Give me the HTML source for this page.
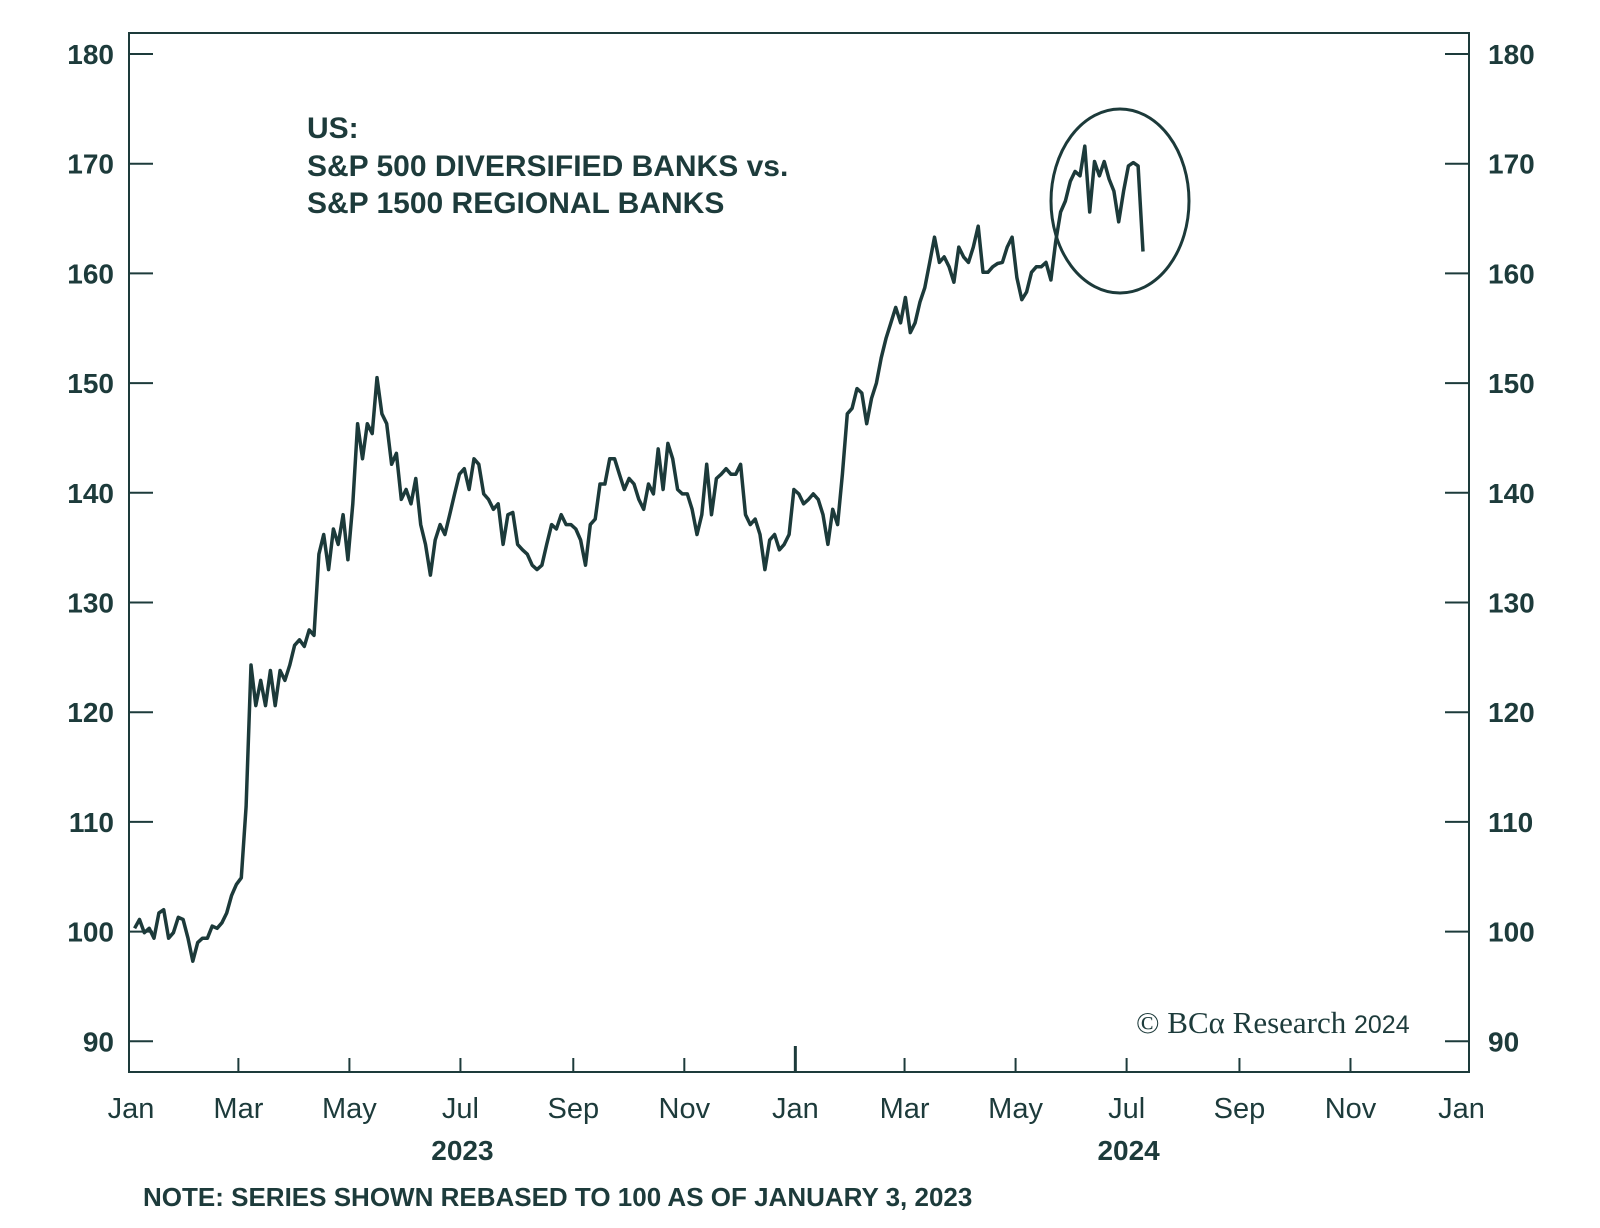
<!DOCTYPE html>
<html><head><meta charset="utf-8"><style>
html,body{margin:0;padding:0;background:#fff;}
svg{display:block;}
text{font-family:"Liberation Sans",sans-serif;fill:#1d3b3b;}
</style></head><body>
<svg id="chart" width="1600" height="1228" viewBox="0 0 1600 1228" xmlns="http://www.w3.org/2000/svg">
<rect x="129" y="33" width="1340" height="1039" fill="none" stroke="#1d3b3b" stroke-width="2"/>
<g id="axes"></g>
<g font-size="30" font-weight="bold">
<text x="307" y="138">US:</text>
<text x="307" y="176">S&amp;P 500 DIVERSIFIED BANKS vs.</text>
<text x="307" y="213">S&amp;P 1500 REGIONAL BANKS</text>
</g>
<path id="series" fill="none" stroke="#1c3a3a" stroke-width="3.5" stroke-linejoin="round"/>
<ellipse cx="1120" cy="201" rx="69" ry="92" fill="none" stroke="#1c3a3a" stroke-width="3"/>
<text x="1136" y="1033" font-size="31" style="font-family:'Liberation Serif',serif">© BCα Research <tspan font-size="25" style="font-family:'Liberation Sans',sans-serif">2024</tspan></text>
<text x="143" y="1206" font-size="26" font-weight="bold">NOTE: SERIES SHOWN REBASED TO 100 AS OF JANUARY 3, 2023</text>
</svg>
<script>
const yTicks = [90,100,110,120,130,140,150,160,170,180];
const monthLabels = ["Jan","Mar","May","Jul","Sep","Nov","Jan","Mar","May","Jul","Sep","Nov","Jan"];
const yearLabels = ["2023","2024"];
const startDate = "2023-01-03";
const endDate = "2024-07-10";
const values = [100.3,101.1,99.9,100.3,99.4,101.7,102.0,99.4,99.9,101.3,101.1,99.4,97.3,99.0,99.4,99.4,100.5,100.3,100.8,101.7,103.3,104.3,104.9,111.4,124.3,120.6,122.9,120.6,123.8,120.6,123.8,122.9,124.3,126.1,126.6,126,127.5,127,134.4,136.2,133,136.7,135.3,138,133.9,139,146.3,143.1,146.3,145.4,150.5,147.2,146.3,142.6,143.6,139.4,140.3,139,141.3,137.1,135.3,132.5,135.7,137.1,136.2,138,139.9,141.7,142.2,140.3,143.1,142.6,139.9,139.4,138.5,139,135.3,138,138.2,135.3,134.8,134.4,133.4,133,133.4,135.3,137.1,136.7,138,137.1,137.1,136.7,135.7,133.4,137.1,137.6,140.8,140.8,143.1,143.1,141.7,140.3,141.3,140.8,139.4,138.5,140.8,139.9,144,140.3,144.5,143.1,140.3,139.9,139.9,138.5,136.2,138,142.6,138,141.3,141.7,142.2,141.7,141.7,142.6,138,137.1,137.6,136.2,133,135.7,136.2,134.8,135.3,136.2,140.3,139.9,139,139.4,139.9,139.4,138,135.3,138.5,137.1,141.7,147.2,147.7,149.5,149.1,146.3,148.6,150,152.3,154.1,155.5,156.9,155.5,157.8,154.6,155.5,157.4,158.7,161,163.3,161,161.5,160.6,159.2,162.4,161.5,161,162.4,164.3,160.1,160.1,160.6,160.9,161,162.4,163.3,159.6,157.6,158.3,160.1,160.6,160.6,161,159.4,162.9,165.6,166.6,168.4,169.3,168.9,171.6,165.6,170.2,168.9,170.2,168.6,167.5,164.7,167.5,169.8,170.1,169.8,162];

const NS = "http://www.w3.org/2000/svg";
const X0 = 131, PXM = 55.4;
const base = new Date("2023-01-01T00:00:00Z");
function xDate(d){ return X0 + ((d - base)/86400000/30.4375)*PXM; }
function yScale(v){ return 54 + (180 - v)*10.97; }
const axes = document.getElementById('axes');
function mk(tag, attrs, txt){ const e=document.createElementNS(NS,tag); for(const k in attrs) e.setAttribute(k,attrs[k]); if(txt!==undefined) e.textContent=txt; axes.appendChild(e); return e; }

yTicks.forEach(v=>{
  const y=yScale(v);
  const l1=mk('line',{x1:129,x2:153,y1:y,y2:y,stroke:'#1d3b3b','stroke-width':2});
  
  
  const l2=mk('line',{x1:1445,x2:1469,y1:y,y2:y,stroke:'#1d3b3b','stroke-width':2});
  
  
  const t1=mk('text',{x:114,y:y+10,'text-anchor':'end','font-size':28,'font-weight':'bold'},String(v));
  
  
  const t2=mk('text',{x:1488,y:y+10,'font-size':28,'font-weight':'bold'},String(v));
  
  
});
monthLabels.forEach((lab,i)=>{
  const yr = 2023 + Math.floor(i/6);
  const mo = (i%6)*2;
  const x=xDate(new Date(Date.UTC(yr,mo,1)));
  const big = (i===6);
  if(i>0 && i<12){
    const tk=mk('line',{x1:x,x2:x,y1:big?1046:1058,y2:1072,stroke:'#1d3b3b','stroke-width':big?3:2});
    
    
  }
  const t=mk('text',{x:x,y:1118,'text-anchor':'middle','font-size':29},lab);
  
  
});
yearLabels.forEach((lab,i)=>{
  const x=xDate(new Date(Date.UTC(2023+i,6,1)));
  const t=mk('text',{x:x+2,y:1160,'text-anchor':'middle','font-size':28,'font-weight':'bold'},lab);
  
  
});
const s=new Date(startDate+"T00:00:00Z"), e=new Date(endDate+"T00:00:00Z");
const n=values.length;
let d="";
values.forEach((v,i)=>{
  const t=new Date(s.getTime()+(e-s)*i/(n-1));
  d+=(i?"L":"M")+xDate(t).toFixed(1)+","+yScale(v).toFixed(1);
});
document.getElementById('series').setAttribute('d',d);
</script>
</body></html>
